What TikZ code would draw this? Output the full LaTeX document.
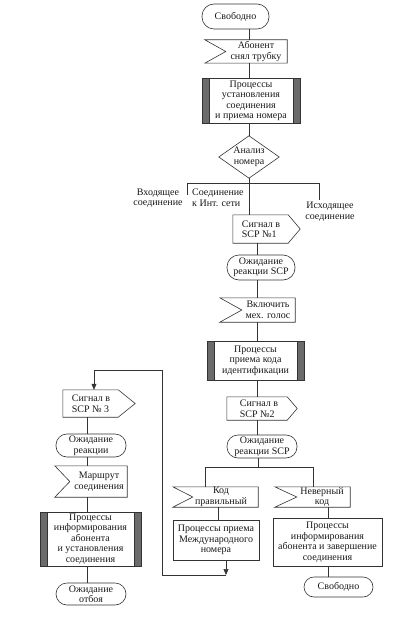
\documentclass[tikz,border=0pt]{standalone}
\usepackage{fontspec}
\setmainfont{Liberation Serif}
\usetikzlibrary{arrows.meta}
\definecolor{barcol}{gray}{0.42}
\newcommand\recvframe[2]{\draw[ln] (#1.north west) -- (#1.north east) -- (#1.south east) -- (#1.south west) -- ([xshift=#2pt]#1.west) -- cycle;}
\newcommand\sendframe[2]{\draw[ln] (#1.north west) -- ([xshift=-#2pt]#1.north east) -- (#1.east) -- ([xshift=-#2pt]#1.south east) -- (#1.south west) -- cycle;}
\newcommand\procframe[1]{\fill[barcol] (#1.north west) rectangle ([xshift=7pt]#1.south west); \fill[barcol] (#1.north east) rectangle ([xshift=-7pt]#1.south east); \draw[ln] (#1.north west) rectangle (#1.south east); \draw[ln] ([xshift=7pt]#1.north west) -- ([xshift=7pt]#1.south west); \draw[ln] ([xshift=-7pt]#1.north east) -- ([xshift=-7pt]#1.south east);}
\newcommand\diamframe[1]{\draw[ln] (#1.north) -- (#1.east) -- (#1.south) -- (#1.west) -- cycle;}
\begin{document}
\begin{tikzpicture}[x=1pt,y=-1pt,
  ln/.style={draw=black!80, line width=0.6pt},
  txt/.style={font=\fontsize{10}{10.5}\selectfont, align=center, inner sep=0pt, text=black!90},
  frame/.style={txt, draw=none},
  stad/.style={txt, ln, rounded corners=#1},
  stad/.default=11pt,
  plainbox/.style={txt, ln},
  arr/.style={ln, -{Triangle[width=5pt,length=6pt]}}]
\useasboundingbox (0,0) rectangle (410,620);
% axes
\coordinate (ax1) at (249,0);
\coordinate (ax2) at (257,0);
\coordinate (ax3) at (218,0);
\coordinate (ax4) at (328,0);
\coordinate (ax5) at (226,0);
\coordinate (ax6) at (87,0);
% main column
\node[stad=12pt, minimum width=67pt, minimum height=25pt] (free1) at (235.5,16.5) {Свободно};
\node[frame, minimum width=82pt, minimum height=23pt] (sub) at (246,51.5) {};
\recvframe{sub}{21}
\node[txt] (sub-t) at (256,51.5) {Абонент\\снял трубку};
\node[frame, minimum width=98pt, minimum height=44pt] (proc1) at (251,101) {Процессы\\установления\\соединения\\и приема номера};
\procframe{proc1}
\node[frame, minimum width=60pt, minimum height=42pt] (dia) at (249,157) {Анализ\\номера};
\diamframe{dia}
\coordinate (br1) at (249,183);
\coordinate (brL) at (187,183);
\coordinate (brLe) at (187,195);
\coordinate (brR) at (319,183);
\coordinate (brRe) at (319,200);
\node[txt] (in-l) at (158,198) {Входящее\\соединение};
\node[txt, align=left, anchor=west] (int-l) at (192,198) {Соединение\\к Инт. сети};
\node[txt] (out-l) at (330,211.5) {Исходящее\\соединение};
\node[frame, minimum width=67pt, minimum height=28pt] (sig1) at (266.5,229) {};
\sendframe{sig1}{12}
\node[txt, align=left] (sig1-t) at (261,229) {Сигнал в\\SCP №1};
\node[stad=12pt, minimum width=68pt, minimum height=25pt] (wait1) at (261,267.5) {Ожидание\\реакции SCP};
\node[frame, minimum width=75pt, minimum height=24pt] (mech) at (257.5,310) {};
\recvframe{mech}{22}
\node[txt] (mech-t) at (268,310) {Включить\\мех. голос};
\node[frame, minimum width=97pt, minimum height=39pt] (proc2) at (255.5,360.5) {Процессы\\приема кода\\идентификации};
\procframe{proc2}
\node[frame, minimum width=70pt, minimum height=23pt] (sig2) at (262,408.5) {};
\sendframe{sig2}{10}
\node[txt, align=left] (sig2-t) at (259,408.5) {Сигнал в\\SCP №2};
\node[stad, minimum width=70pt, minimum height=23pt] (wait2) at (262,446.5) {Ожидание\\реакции SCP};
\coordinate (br2) at (258,467);
\coordinate (br2L) at (205,467);
\coordinate (br2R) at (313,467);
\node[frame, minimum width=85pt, minimum height=20pt] (ok) at (215.5,497) {};
\recvframe{ok}{20}
\node[txt] (ok-t) at (221,497) {Код\\правильный};
\node[frame, minimum width=75pt, minimum height=20pt] (bad) at (312.5,497) {};
\recvframe{bad}{22}
\node[txt] (bad-t) at (322,497) {Неверный\\код};
\node[plainbox, minimum width=86pt, minimum height=40pt] (intl) at (216,540) {Процессы приема\\Международного\\номера};
\node[plainbox, minimum width=109pt, minimum height=48pt] (info) at (327.5,542) {Процессы\\информирования\\абонента и завершение\\соединения};
\node[stad=10pt, minimum width=69pt, minimum height=20pt] (free2) at (338.5,587) {Свободно};
% left column
\node[frame, minimum width=72pt, minimum height=27pt] (sig3) at (99,403.5) {};
\sendframe{sig3}{17}
\node[txt, align=left] (sig3-t) at (91,403.5) {Сигнал в\\SCP № 3};
\node[stad, minimum width=70pt, minimum height=23pt] (wait3) at (91,445.5) {Ожидание\\реакции};
\node[frame, minimum width=72pt, minimum height=31pt] (route) at (91,481.5) {};
\recvframe{route}{15}
\node[txt] (route-t) at (99,481.5) {Маршрут\\соединения};
\node[frame, minimum width=101pt, minimum height=54pt] (proc3) at (90.5,539) {Процессы\\информирования\\абонента\\и установления\\соединения};
\procframe{proc3}
\node[stad, minimum width=70pt, minimum height=22pt] (wait4) at (91,594) {Ожидание\\отбоя};
% connectors main
\draw[ln] (ax1 |- free1.south) -- (ax1 |- sub.north);
\draw[ln] (ax1 |- sub.south) -- (ax1 |- proc1.north);
\draw[ln] (ax1 |- proc1.south) -- (dia.north);
\draw[ln] (dia.south) -- (br1);
\draw[ln] (brLe) -- (brL) -- (brR) -- (brRe);
\draw[ln] (br1) -- (br1 |- sig1.north);
\draw[ln] (ax2 |- sig1.south) -- (ax2 |- wait1.north);
\draw[ln] (ax2 |- wait1.south) -- (ax2 |- mech.north);
\draw[ln] (ax2 |- mech.south) -- (ax2 |- proc2.north);
\draw[ln] (ax2 |- proc2.south) -- (ax2 |- sig2.north);
\draw[ln] (ax2 |- sig2.south) -- (ax2 |- wait2.north);
\draw[ln] (br2 |- wait2.south) -- (br2);
\draw[ln] (br2L |- ok.north) -- (br2L) -- (br2R) -- (br2R |- bad.north);
\draw[ln] (ax3 |- ok.south) -- (ax3 |- intl.north);
\draw[ln] (ax4 |- bad.south) -- (ax4 |- info.north);
\draw[ln] (ax4 |- info.south) -- (ax4 |- free2.north);
% loop back
\coordinate (lp0) at (226,575);
\coordinate (lp1) at (162,575);
\coordinate (lp2) at (162,370);
\coordinate (lp3) at (94,370);
\draw[arr] (ax5 |- intl.south) -- (lp0);
\draw[ln] (lp0) -- (lp1) -- (lp2) -- (lp3);
\draw[arr] (lp3) -- (lp3 |- sig3.north);
% connectors left
\draw[ln] (ax6 |- sig3.south) -- (ax6 |- wait3.north);
\draw[ln] (ax6 |- wait3.south) -- (ax6 |- route.north);
\draw[ln] (ax6 |- route.south) -- (ax6 |- proc3.north);
\draw[ln] (ax6 |- proc3.south) -- (ax6 |- wait4.north);
\end{tikzpicture}
\end{document}
